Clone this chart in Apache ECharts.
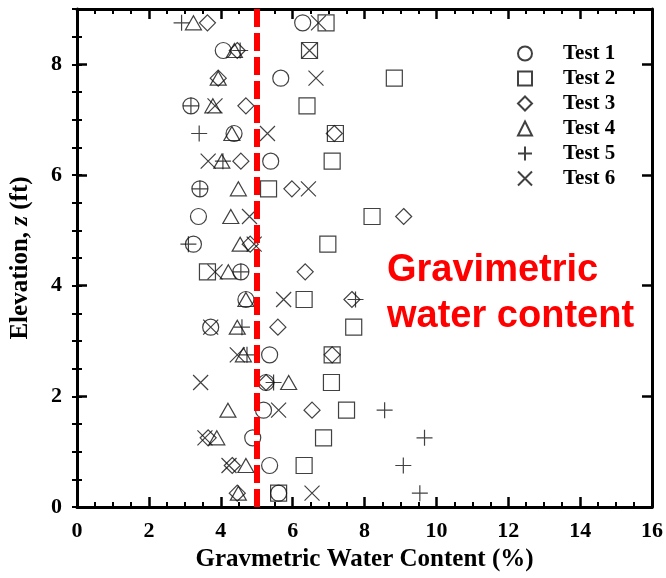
<!DOCTYPE html>
<html>
<head>
<meta charset="utf-8">
<script src="https://cdn.jsdelivr.net/npm/echarts@6/dist/echarts.min.js"></script>
<style>
  html, body { margin: 0; padding: 0; background: #fff; }
  #chart { width: 666px; height: 578px; }
</style>
</head>
<body>
<div id="chart"></div>
<script>
// elevation of each measurement row (ft)
const elevation = [0.25, 0.75, 1.25, 1.75, 2.25, 2.75, 3.25, 3.75, 4.25,
                   4.75, 5.25, 5.75, 6.25, 6.75, 7.25, 7.75, 8.25, 8.75];

// gravimetric water content (%), one value per elevation row
const test1 = [5.61, 5.36, 4.89, 5.19, 5.26, 5.36, 3.72, 4.70, 4.56, 3.24, 3.38, 3.42, 5.39, 4.37, 3.17, 5.67, 4.07, 6.28];
const test2 = [5.61, 6.32, 6.86, 7.50, 7.08, 7.10, 7.70, 6.32, 3.63, 6.98, 8.21, 5.33, 7.10, 7.19, 6.40, 8.83, 6.47, 6.93];
const test3 = [4.46, 4.32, 3.65, 6.54, 5.26, 7.10, 5.59, 7.65, 6.35, 4.82, 9.09, 5.98, 4.56, 7.16, 4.70, 3.93, 4.46, 3.63];
const test4 = [4.49, 4.70, 3.89, 4.20, 5.89, 4.63, 4.46, 4.70, 4.21, 4.54, 4.28, 4.49, 4.03, 4.31, 3.78, 3.93, 4.38, 3.24];
const test5 = [9.54, 9.08, 9.67, 8.56, 5.47, 4.73, 4.59, 7.75, 4.56, 3.10, null, 3.42, 4.06, 3.40, 3.17, null, 4.54, 2.91];
const test6 = [6.54, 4.23, 3.56, 5.61, 3.44, 4.46, 3.72, 5.75, 3.84, 4.93, 4.80, 6.44, 3.65, 5.30, 3.84, 6.65, 6.47, 6.72];

const seriesNames = ['Test 1', 'Test 2', 'Test 3', 'Test 4', 'Test 5', 'Test 6'];
const xTicks = { min: 0, max: 16, step: 2 };
const yTicks = { min: 0, max: 9, step: 2 };
const targetContent = 5;

const serif = 'Liberation Serif';

const toPoints = (vals) => vals
  .map((v, i) => (v === null ? null : [v, elevation[i]]))
  .filter((p) => p !== null);

const markerStyle = {
  color: 'rgba(0,0,0,0)',
  borderColor: '#111',
  borderWidth: 1.2
};

const makeSeries = (name, vals, symbol, size) => ({
  name: name,
  type: 'scatter',
  xAxisIndex: 0,
  yAxisIndex: 0,
  symbol: symbol,
  symbolSize: size,
  itemStyle: markerStyle,
  emphasis: { disabled: true },
  data: toPoints(vals)
});

const series = [
  makeSeries(seriesNames[0], test1, 'circle', 16),
  makeSeries(seriesNames[1], test2, 'rect', 16),
  makeSeries(seriesNames[2], test3, 'diamond', 16),
  makeSeries(seriesNames[3], test4, 'triangle', [16, 14]),
  makeSeries(seriesNames[4], test5, 'path://M0,5L10,5M5,0L5,10', 16),
  makeSeries(seriesNames[5], test6, 'path://M0,0L10,10M0,10L10,0', 15)
];

// red dashed reference line at 5 %
series[5].markLine = {
  silent: true,
  symbol: ['none', 'none'],
  label: { show: false },
  lineStyle: { color: '#ff0000', width: 6, type: [18, 6] },
  data: [{ xAxis: targetContent }]
};

const axisLine = { show: true, onZero: false, lineStyle: { color: '#000', width: 3 } };

const chart = echarts.init(document.getElementById('chart'));

const option = {
  animation: false,
  grid: { left: 77, right: 14, top: 9, bottom: 71 },
  legend: {
    orient: 'vertical',
    left: 512,
    top: 38,
    itemWidth: 14,
    itemHeight: 14,
    itemGap: 4,
    data: seriesNames,
    textStyle: {
      fontFamily: serif,
      fontWeight: 'bold',
      fontSize: 21,
      color: '#000',
      padding: [0, 0, 0, 26]
    }
  },
  xAxis: [
    {
      type: 'value',
      position: 'bottom',
      min: xTicks.min,
      max: xTicks.max,
      interval: xTicks.step,
      axisLine: axisLine,
      axisTick: { inside: true, length: 10, lineStyle: { color: '#000', width: 2.5 } },
      minorTick: { show: true, splitNumber: 4, length: 5, lineStyle: { color: '#000', width: 2 } },
      splitLine: { show: false },
      axisLabel: { margin: 13, fontFamily: serif, fontWeight: 'bold', fontSize: 22, color: '#000' },
      name: 'Gravmetric Water Content (%)',
      nameLocation: 'middle',
      nameGap: 36,
      nameTextStyle: { fontFamily: serif, fontWeight: 'bold', fontSize: 25, color: '#000', verticalAlign: 'top' }
    },
    {
      type: 'value',
      position: 'top',
      min: xTicks.min,
      max: xTicks.max,
      interval: xTicks.step,
      axisLine: axisLine,
      axisTick: { inside: true, length: 10, lineStyle: { color: '#000', width: 2.5 } },
      minorTick: { show: true, splitNumber: 4, length: 5, lineStyle: { color: '#000', width: 2 } },
      splitLine: { show: false },
      axisLabel: { show: false }
    }
  ],
  yAxis: [
    {
      type: 'value',
      position: 'left',
      min: yTicks.min,
      max: yTicks.max,
      interval: yTicks.step,
      axisLine: axisLine,
      axisTick: { inside: true, length: 10, lineStyle: { color: '#000', width: 2.5 } },
      splitLine: { show: false },
      axisLabel: { margin: 15, showMaxLabel: false, fontFamily: serif, fontWeight: 'bold', fontSize: 22, color: '#000' },
      name: '{b|Elevation, }{i|z}{b| (ft)}',
      nameLocation: 'middle',
      nameGap: 44,
      nameTextStyle: {
        rich: {
          b: { fontFamily: serif, fontWeight: 'bold', fontSize: 25, color: '#000' },
          i: { fontFamily: serif, fontWeight: 'bold', fontStyle: 'italic', fontSize: 25, color: '#000' }
        }
      }
    },
    {
      type: 'value',
      position: 'left',
      min: yTicks.min,
      max: yTicks.max,
      interval: 0.5,
      axisLine: { show: false },
      axisTick: { inside: true, length: 5, lineStyle: { color: '#000', width: 2 } },
      splitLine: { show: false },
      axisLabel: { show: false }
    },
    {
      type: 'value',
      position: 'right',
      min: yTicks.min,
      max: yTicks.max,
      interval: yTicks.step,
      axisLine: axisLine,
      axisTick: { inside: true, length: 10, lineStyle: { color: '#000', width: 2.5 } },
      splitLine: { show: false },
      axisLabel: { show: false }
    },
    {
      type: 'value',
      position: 'right',
      min: yTicks.min,
      max: yTicks.max,
      interval: 0.5,
      axisLine: { show: false },
      axisTick: { inside: true, length: 5, lineStyle: { color: '#000', width: 2 } },
      splitLine: { show: false },
      axisLabel: { show: false }
    }
  ],
  graphic: [
    {
      type: 'text',
      left: 387,
      top: 248,
      z: 100,
      style: {
        text: 'Gravimetric\nwater content',
        fontFamily: 'Liberation Sans',
        fontWeight: 'bold',
        fontSize: 38,
        lineHeight: 46,
        fill: '#ff0000'
      }
    }
  ],
  series: series
};

chart.setOption(option);
</script>
</body>
</html>
